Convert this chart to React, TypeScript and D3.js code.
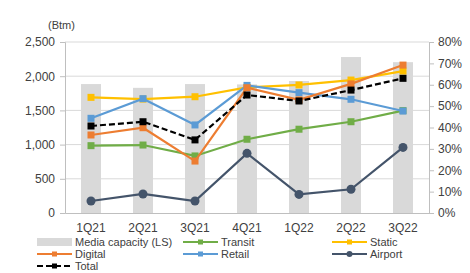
import { useEffect, useRef } from "react";
import * as d3 from "d3";

const quarters = ["1Q21", "2Q21", "3Q21", "4Q21", "1Q22", "2Q22", "3Q22"];
const capacity = [1885, 1830, 1885, 1880, 1930, 2280, 2205];
const transit = [31.5, 31.8, 26.7, 34.5, 39.2, 42.7, 47.9];
const staticRate = [54.1, 53.3, 54.4, 58.8, 59.9, 62.2, 66.4];
const digital = [36.5, 39.9, 24.3, 58.6, 52.9, 60.4, 69.2];
const retail = [44.3, 53.5, 41.2, 59.7, 56.3, 53.2, 47.7];
const airport = [5.6, 8.9, 5.6, 27.9, 8.7, 11.1, 30.7];
const total = [40.7, 42.7, 34.2, 55.2, 52.4, 57.5, 63.0];
const leftTicks = [0, 500, 1000, 1500, 2000, 2500];
const rightTicks = [0, 10, 20, 30, 40, 50, 60, 70, 80];

type Series = { name: string; values: number[]; color: string; marker: "square" | "circle"; dash?: string };

const series: Series[] = [
  { name: "Transit", values: transit, color: "#70AD47", marker: "square" },
  { name: "Static", values: staticRate, color: "#FFC000", marker: "square" },
  { name: "Airport", values: airport, color: "#44546A", marker: "circle" },
  { name: "Retail", values: retail, color: "#5B9BD5", marker: "square" },
  { name: "Digital", values: digital, color: "#ED7D31", marker: "square" },
  { name: "Total", values: total, color: "#000000", marker: "square", dash: "6,3" },
];

const legendOrder = ["Media capacity (LS)", "Transit", "Static", "Digital", "Retail", "Airport", "Total"];

export default function App() {
  const svgRef = useRef<SVGSVGElement>(null);

  useEffect(() => {
    const svg = d3.select(svgRef.current);
    svg.selectAll("*").remove();

    const left = 65, right = 429, top = 42, bottom = 213;
    const font = "Liberation Sans, Arial, sans-serif";
    const textColor = "#404040";

    const x = d3.scaleBand().domain(quarters).range([left, right]);
    const yL = d3.scaleLinear().domain([0, 2500]).range([bottom, top]);
    const yR = d3.scaleLinear().domain([0, 80]).range([bottom, top]);

    // grid
    svg.append("g").selectAll("line").data(leftTicks.slice(1)).join("line")
      .attr("x1", left).attr("x2", right)
      .attr("y1", d => yL(d)).attr("y2", d => yL(d))
      .attr("stroke", "#d9d9d9").attr("stroke-width", 1);

    // bars
    const bw = 20;
    svg.append("g").selectAll("rect").data(capacity).join("rect")
      .attr("x", (d, i) => x(quarters[i])! + x.bandwidth() / 2 - bw / 2)
      .attr("width", bw)
      .attr("y", d => yL(d))
      .attr("height", d => bottom - yL(d))
      .attr("fill", "#d9d9d9");

    // axes
    const gL = svg.append("g").attr("transform", `translate(${left},0)`)
      .call(d3.axisLeft(yL).tickValues(leftTicks).tickSize(5).tickPadding(5).tickFormat(d3.format(",")));
    const gR = svg.append("g").attr("transform", `translate(${right},0)`)
      .call(d3.axisRight(yR).tickValues(rightTicks).tickSize(5).tickPadding(4).tickFormat(d => `${d}%`));
    const gB = svg.append("g").attr("transform", `translate(0,${bottom})`)
      .call(d3.axisBottom(x).tickSize(0).tickPadding(10));
    [gL, gR, gB].forEach(g => {
      g.selectAll("path").attr("stroke", "#bfbfbf");
      g.selectAll("line").attr("stroke", "#bfbfbf");
      g.selectAll("text").attr("font-family", font).attr("font-size", 12).attr("fill", textColor);
    });

    svg.append("text").attr("x", 48).attr("y", 29).attr("font-family", font)
      .attr("font-size", 11).attr("fill", textColor).text("(Btm)");

    const line = d3.line<number>()
      .x((d, i) => x(quarters[i])! + x.bandwidth() / 2)
      .y(d => yR(d));

    series.forEach(s => {
      const g = svg.append("g");
      g.append("path").datum(s.values).attr("d", line).attr("fill", "none")
        .attr("stroke", s.color).attr("stroke-width", 2.2)
        .attr("stroke-dasharray", s.dash ?? null);
      s.values.forEach((v, i) => {
        const cx = x(quarters[i])! + x.bandwidth() / 2, cy = yR(v);
        if (s.marker === "circle") {
          g.append("circle").attr("cx", cx).attr("cy", cy).attr("r", 4.5).attr("fill", s.color);
        } else {
          g.append("rect").attr("x", cx - 3.5).attr("y", cy - 3.5).attr("width", 7).attr("height", 7).attr("fill", s.color);
        }
      });
    });

    // legend
    const cols = [37, 183, 332];
    const rows = [242, 254, 266];
    legendOrder.forEach((name, k) => {
      const cx = cols[k % 3], cy = rows[Math.floor(k / 3)];
      const g = svg.append("g");
      if (k === 0) {
        g.append("rect").attr("x", cx).attr("y", cy - 4).attr("width", 35).attr("height", 8).attr("fill", "#d9d9d9");
        g.append("text").attr("x", cx + 38).attr("y", cy + 4).attr("font-family", font)
          .attr("font-size", 11).attr("fill", textColor).text(name);
        return;
      }
      const s = series.find(t => t.name === name)!;
      g.append("line").attr("x1", cx).attr("x2", cx + 35).attr("y1", cy).attr("y2", cy)
        .attr("stroke", s.color).attr("stroke-width", 2).attr("stroke-dasharray", s.dash ?? null);
      if (s.marker === "circle") {
        g.append("circle").attr("cx", cx + 17.5).attr("cy", cy).attr("r", 3).attr("fill", s.color);
      } else {
        g.append("rect").attr("x", cx + 15).attr("y", cy - 2.5).attr("width", 5).attr("height", 5).attr("fill", s.color);
      }
      g.append("text").attr("x", cx + 38).attr("y", cy + 4).attr("font-family", font)
        .attr("font-size", 11).attr("fill", textColor).text(name);
    });
  }, []);

  return (
    <div style={{ position: "fixed", top: 0, left: 0, width: 470, height: 273, background: "#fff" }}>
      <svg ref={svgRef} width={470} height={273} style={{ display: "block" }} />
    </div>
  );
}
